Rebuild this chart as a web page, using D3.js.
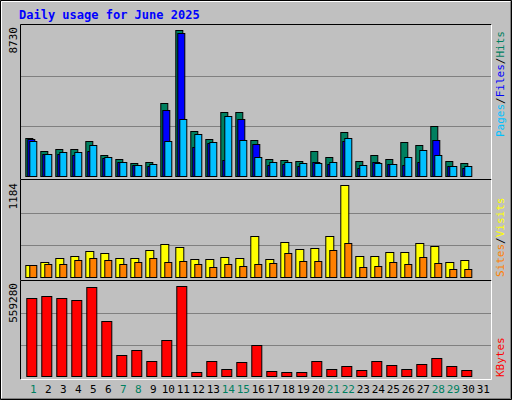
<!DOCTYPE html>
<html>
<head>
<meta charset="utf-8">
<script src="https://d3js.org/d3.v7.min.js"></script>
<style>
  body { margin: 0; background: #fff; }
  text { font-family: "DejaVu Sans Mono", monospace; }
</style>
</head>
<body>
<svg id="chart" width="512" height="400"></svg>
<script>
var days = d3.range(1, 32);
var weekend = [1, 7, 8, 14, 15, 21, 22, 28, 29];

var hits = [2210,1440,1560,1560,2020,1210,980,750,810,4210,8480,2600,2130,3690,3690,2080,980,920,865,1440,1100,2540,865,1210,980,1960,1790,2880,865,750,0];
var files = [2130,1270,1270,1210,1440,1040,810,635,577,3810,8310,1670,1900,920,3290,1850,635,690,577,810,690,2020,460,810,690,635,810,2080,577,460,0];
var pages = [2020,1270,1385,1385,1790,1100,810,635,690,2020,3290,2420,1960,3460,2080,1100,810,810,750,750,810,2190,635,750,690,1100,1500,1210,577,577,0];
var visits = [151,188,237,261,322,298,237,237,334,408,371,225,225,249,237,505,225,432,347,359,505,1128,261,261,310,310,420,383,188,212,0];
var sites = [151,164,164,212,237,212,164,188,237,188,200,164,127,164,139,164,176,298,200,200,334,420,127,139,188,164,249,176,102,102,0];
var kbytes = [462500,474200,462500,450900,526600,322700,124700,153800,89700,212000,532400,25600,89700,43100,83900,182900,31500,25600,25600,89700,43100,60600,37300,89700,66400,43100,72200,107200,60600,37300,0];

var maxHits = 8730, maxVisits = 1184, maxKB = 559280;

var svg = d3.select("#chart");

// background and outer bevel
svg.append("rect").attr("width", 512).attr("height", 400).attr("fill", "#c0c0c0");
svg.append("path").attr("d", "M0.5,399.5V0.5H511.5").attr("fill", "none").attr("stroke", "#000");
svg.append("path").attr("d", "M1.5,398.5V1.5H510.5").attr("fill", "none").attr("stroke", "#fff");
svg.append("path").attr("d", "M1.5,398.5H510.5V1.5").attr("fill", "none").attr("stroke", "#808080");
svg.append("path").attr("d", "M0.5,399.5H511.5V0.5").attr("fill", "none").attr("stroke", "#000");

svg.append("text").attr("x", 19).attr("y", 19).attr("fill", "#0000ff")
  .attr("font-size", 12).attr("font-weight", "bold").text("Daily usage for June 2025");

var x = d3.scaleBand().domain(days).range([25.3, 25.3 + 15 * 31]);

function panel(y0, y1, max) {
  svg.append("path").attr("d", "M20.5," + y1 + "V" + y0 + "H491.5").attr("fill", "none").attr("stroke", "#000");
  svg.append("path").attr("d", "M20.5," + y1 + "H491.5V" + y0).attr("fill", "none").attr("stroke", "#fff");
  var y = d3.scaleLinear().domain([0, max]).range([y1 - 3.5, y0 + 1]);
  [1, 2].forEach(function (k) {
    var gy = Math.round(y(max * k / 3)) + 0.5;
    svg.append("line").attr("x1", 21).attr("x2", 491).attr("y1", gy).attr("y2", gy)
      .attr("stroke", "#808080");
  });
  return y;
}

function bars(y, data, dx, w, color) {
  svg.append("g").selectAll("rect").data(data).join("rect")
    .filter(function (d) { return d > 0; })
    .attr("x", function (d, i) { return x(i + 1) + dx + 0.5; })
    .attr("y", function (d) { return Math.round(y(d)) + 0.5; })
    .attr("width", w)
    .attr("height", function (d) { return Math.round(y(0)) - Math.round(y(d)); })
    .attr("fill", color).attr("stroke", "#000");
}

// rotated legend reading bottom-to-top, starting at cy
function sideLabel(cx, cy, parts) {
  var t = svg.append("text").attr("transform", "translate(" + cx + "," + cy + ") rotate(-90)")
    .attr("font-size", 11).attr("text-anchor", "start");
  parts.forEach(function (p) { t.append("tspan").attr("fill", p[1]).text(p[0]); });
}

function maxLabel(cy, s) {
  svg.append("text").attr("transform", "translate(17," + cy + ") rotate(-90)")
    .attr("font-size", 11).attr("text-anchor", "end").attr("fill", "#000").text(s);
}

// hits / files / pages
var y1 = panel(24.5, 179.5, maxHits);
bars(y1, hits, 0, 7, "#008060");
bars(y1, files, 2, 7, "#0000ff");
bars(y1, pages, 4, 7, "#00c0ff");
maxLabel(27, String(maxHits));
sideLabel(504, 137, [["Pages", "#00c0ff"], ["/", "#000"], ["Files", "#0000ff"], ["/", "#000"], ["Hits", "#008060"]]);

// visits / sites
var y2 = panel(179.5, 280.5, maxVisits);
bars(y2, visits, 0, 8, "#ffff00");
bars(y2, sites, 4, 7, "#ff8000");
maxLabel(183, String(maxVisits));
sideLabel(504, 277, [["Sites", "#ff8000"], ["/", "#000"], ["Visits", "#ffff00"]]);

// kbytes
var y3 = panel(280.5, 379.5, maxKB);
bars(y3, kbytes, 1, 10, "#ff0000");
maxLabel(283, String(maxKB));
sideLabel(504, 377, [["KBytes", "#ff0000"]]);

// day labels
svg.append("g").selectAll("text").data(days).join("text")
  .attr("x", function (d) { return x(d) + 8; })
  .attr("y", 393)
  .attr("text-anchor", "middle").attr("font-size", 11)
  .attr("fill", function (d) { return weekend.indexOf(d) >= 0 ? "#008060" : "#000"; })
  .text(function (d) { return d; });
</script>
</body>
</html>
